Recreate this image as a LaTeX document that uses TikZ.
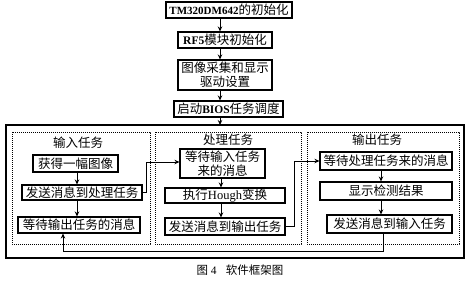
\documentclass[tikz,border=0pt]{standalone}
\usepackage{fontspec}
\setmainfont{Noto Sans CJK SC}
\newfontfamily\lat{Liberation Serif}
\usetikzlibrary{arrows.meta}
\newcommand{\latb}[1]{{\lat\bfseries\fontsize{11.5}{13}\selectfont #1}}
\begin{document}
\begin{tikzpicture}[x=1pt,y=-1pt,
  box/.style={draw,line width=1.1pt,inner sep=0pt,align=center,font=\fontsize{12.5}{14}\selectfont},
  ttl/.style={inner sep=0pt,font=\fontsize{12.5}{14}\selectfont},
  arr/.style={line width=0.9pt,-{Stealth[length=5pt,width=4.5pt]}},
  frm/.style={line width=1pt,dash pattern=on 1.2pt off 0.8pt},
  outer/.style={line width=1.1pt}]
\useasboundingbox (0,0) rectangle (471,285);
% top chain
\node[box,minimum width=126pt,minimum height=16pt] (t1) at (229,10) {{\lat\bfseries\fontsize{11}{13}\selectfont TM320DM642}的初始化};
\node[box,minimum width=94pt,minimum height=16pt] (t2) at (225,40) {\latb{RF5}模块初始化};
\node[box,minimum width=94pt,minimum height=30pt] (t3) at (225,75) {图像采集和显示\\驱动设置};
\node[box,minimum width=109pt,minimum height=16pt] (t4) at (228.5,109) {启动\latb{BIOS}任务调度};
\coordinate (ax) at (220,0);
% frames
\draw[outer] (6,125) rectangle (464,258);
\coordinate (otop) at (220,125);
\draw[frm] (12,132) rectangle (150,244);
\draw[frm] (155,132) rectangle (301,244);
\draw[frm] (307,132) rectangle (459,244);
\draw[arr] (t1.south -| ax) -- (t2.north -| ax);
\draw[arr] (t2.south -| ax) -- (t3.north -| ax);
\draw[arr] (t3.south -| ax) -- (t4.north -| ax);
\draw[arr] (t4.south -| ax) -- (otop);
% left
\node[ttl] (l0) at (78,143) {输入任务};
\node[box,minimum width=85pt,minimum height=17pt] (l1) at (75.5,163.5) {获得一幅图像};
\node[box,minimum width=120pt,minimum height=15pt] (l2) at (82,192.5) {发送消息到处理任务};
\node[box,minimum width=122pt,minimum height=16pt] (l3) at (79,225) {等待输出任务的消息};
\coordinate (lx) at (77,0);
\draw[arr] (l1.south -| lx) -- (l2.north -| lx);
\draw[arr] (l2.south -| lx) -- (l3.north -| lx);
% middle
\node[ttl] (m0) at (228,140) {处理任务};
\node[box,minimum width=85pt,minimum height=29pt] (m1) at (222.5,163.5) {等待输入任务\\来的消息};
\node[box,minimum width=120pt,minimum height=15pt] (m2) at (225,195.5) {执行{\lat Hough}变换};
\node[box,minimum width=120pt,minimum height=17pt] (m3) at (225,226.5) {发送消息到输出任务};
\coordinate (mx) at (221,0);
\draw[arr] (m1.south -| mx) -- (m2.north -| mx);
\draw[arr] (m2.south -| mx) -- (m3.north -| mx);
% right
\node[ttl] (r0) at (377,140) {输出任务};
\node[box,minimum width=132pt,minimum height=18pt] (r1) at (386,161) {等待处理任务来的消息};
\node[box,minimum width=132pt,minimum height=18pt] (r2) at (386,191) {显示检测结果};
\node[box,minimum width=125pt,minimum height=18pt] (r3) at (389.5,224) {发送消息到输入任务};
\coordinate (rx) at (381,0);
\draw[arr] (r1.south -| rx) -- (r2.north -| rx);
\draw[arr] (r2.south -| rx) -- (r3.north -| rx);
% cross connectors
\coordinate (c1) at (146,162);
\coordinate (c2) at (294,161);
\draw[arr] (l2.east) -| (c1) -- (c1 -| m1.west);
\draw[arr] (m3.east) -| (c2) -- (c2 -| r1.west);
\coordinate (fb1) at (383,251);
\coordinate (fb2) at (63,251);
\draw[arr] (r3.south -| fb1) -- (fb1) -- (fb2) -- (l3.south -| fb2);
% caption
\node[inner sep=0pt,font=\fontsize{11.5}{13}\selectfont] (cap) at (240,270) {图\hspace{0.25em}{\lat 4}\hspace{0.8em}软件框架图};
\end{tikzpicture}
\end{document}
